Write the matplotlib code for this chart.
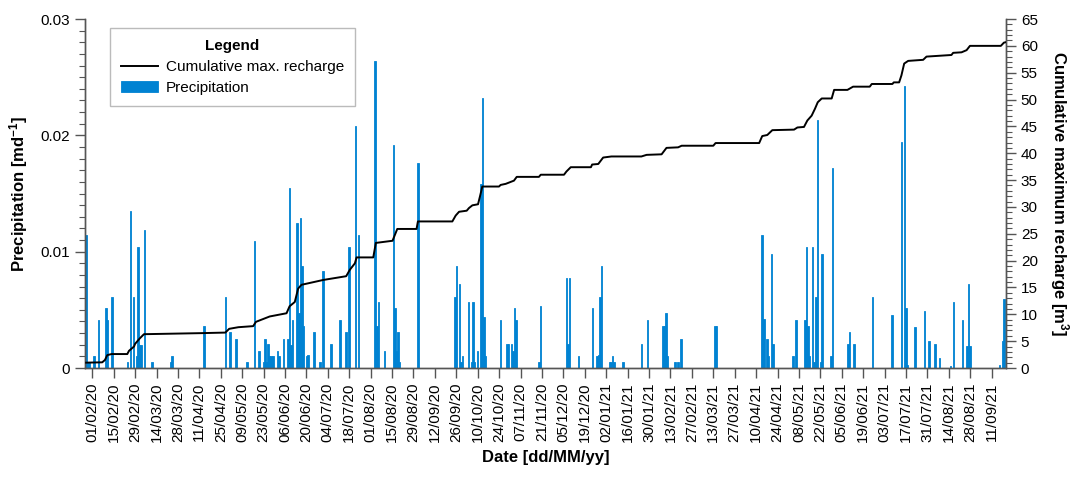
import numpy as np
import matplotlib.pyplot as plt
import matplotlib.dates as mdates
from matplotlib.ticker import MultipleLocator

plt.rcParams['font.family'] = ['Liberation Sans', 'DejaVu Sans']
plt.rcParams['mathtext.fontset'] = 'custom'
plt.rcParams['mathtext.bf'] = 'Liberation Sans:bold'
plt.rcParams['mathtext.default'] = 'bf'

# day offsets are counted from 01/02/2020
start = mdates.date2num(np.datetime64('2020-02-01'))

# daily precipitation (only rainy days) [m/d]
rain_day = [-4, -3, -2, 1, 4, 9, 10, 13, 23, 25, 27, 29, 30, 31, 32, 34, 39, 51, 52,
            73, 87, 90, 94, 101, 106, 109, 112, 113, 114, 115, 116, 117, 118, 121,
            122, 125, 128, 129, 130, 131, 134, 135, 136, 137, 138, 140, 141, 145,
            149, 151, 156, 162, 166, 168, 172, 174, 185, 186, 187, 191, 197, 198,
            199, 200, 201, 213, 237, 238, 240, 241, 242, 246, 248, 249, 250, 252,
            254, 255, 256, 257, 267, 271, 272, 274, 275, 276, 277, 292, 293, 310,
            311, 312, 318, 327, 330, 331, 332, 333, 338, 339, 340, 341, 347, 359,
            363, 373, 374, 375, 376, 381, 383, 385, 407, 408, 438, 439, 441, 442,
            444, 445, 458, 460, 466, 467, 468, 469, 471, 472, 473, 474, 476, 477,
            483, 484, 494, 495, 498, 510, 523, 529, 531, 532, 533, 538, 544, 547,
            551, 554, 561, 563, 569, 572, 573, 574, 593, 595, 596]
rain = [0.0114, 0.0005, 0.0005, 0.0010, 0.0041, 0.0052, 0.0041, 0.0061, 0.0005,
        0.0135, 0.0061, 0.0010, 0.0104, 0.0020, 0.0020, 0.0119, 0.0005, 0.0005,
        0.0010, 0.0036, 0.0061, 0.0031, 0.0025, 0.0005, 0.0109, 0.0015, 0.0005,
        0.0025, 0.0005, 0.0021, 0.0010, 0.0010, 0.0010, 0.0015, 0.0010, 0.0025,
        0.0025, 0.0155, 0.0020, 0.0041, 0.0125, 0.0047, 0.0129, 0.0088, 0.0036,
        0.0010, 0.0011, 0.0031, 0.0005, 0.0083, 0.0021, 0.0041, 0.0031, 0.0104,
        0.0208, 0.0114, 0.0264, 0.0036, 0.0057, 0.0015, 0.0192, 0.0052, 0.0015,
        0.0031, 0.0005, 0.0176, 0.0061, 0.0088, 0.0072, 0.0005, 0.0010, 0.0057,
        0.0005, 0.0057, 0.0005, 0.0015, 0.0158, 0.0232, 0.0044, 0.0010, 0.0041,
        0.0021, 0.0021, 0.0021, 0.0015, 0.0052, 0.0041, 0.0005, 0.0053, 0.0077,
        0.0021, 0.0077, 0.0010, 0.0052, 0.0010, 0.0011, 0.0061, 0.0088, 0.0005,
        0.0005, 0.0010, 0.0005, 0.0005, 0.0021, 0.0041, 0.0036, 0.0036, 0.0047,
        0.0010, 0.0005, 0.0005, 0.0025, 0.0036, 0.0036, 0.0114, 0.0042, 0.0025,
        0.0010, 0.0098, 0.0021, 0.0010, 0.0041, 0.0041, 0.0104, 0.0036, 0.0010,
        0.0104, 0.0005, 0.0061, 0.0213, 0.0005, 0.0098, 0.0010, 0.0172, 0.0021,
        0.0031, 0.0021, 0.0061, 0.0046, 0.0194, 0.0242, 0.0052, 0.0003, 0.0035,
        0.0049, 0.0023, 0.0021, 0.0009, 0.0002, 0.0057, 0.0041, 0.0019, 0.0072,
        0.0019, 0.0003, 0.0023, 0.0059]

# cumulative maximum recharge [m3]
rech_day = [-4, 6.5, 8.3, 9.8, 12.6, 22.9, 24, 27.3, 28, 31, 33.8, 72, 87, 89.5,
            95.5, 105.2, 107, 116, 127, 129, 132.4, 134.6, 136.8, 151, 166, 168.4,
            171.7, 172.8, 183.7, 185.4, 196.3, 199.4, 212, 212.9, 235.4, 237.6,
            239.8, 244.8, 246.3, 248.5, 252.2, 253.5, 255, 265.9, 267, 270.3,
            275.7, 277.5, 292, 293.2, 308.4, 310, 312.8, 326, 326.8, 330.8, 334,
            339.4, 359, 362.4, 372.2, 375.4, 383, 385.3, 406, 407.5, 436, 438,
            441.3, 444.6, 458.8, 461, 465.3, 467.5, 470.3, 472.5, 474.3, 476.9,
            483.4, 485, 493.7, 497.4, 508.3, 509.6, 523.1, 524, 527.5, 529,
            530.8, 533.4, 543.2, 545.4, 561.7, 562.8, 568.3, 571.6, 573.8, 594,
            596, 597.5]
rech = [1.0, 1.06, 1.5, 2.4, 2.6, 2.6, 3.2, 4.0, 4.5, 5.5, 6.3, 6.5, 6.6, 7.3,
        7.6, 7.8, 8.6, 9.6, 10.2, 11.5, 12.3, 14.8, 15.5, 16.4, 17.1, 18.3, 19.5,
        20.6, 20.6, 23.3, 23.7, 25.9, 25.9, 27.3, 27.3, 28.4, 29.1, 29.3, 29.8,
        30.3, 30.5, 32.0, 33.8, 33.8, 34.1, 34.3, 34.9, 35.6, 35.6, 36.0, 36.0,
        36.6, 37.4, 37.4, 37.9, 38.0, 39.2, 39.4, 39.4, 39.7, 39.8, 41.0, 41.1,
        41.4, 41.4, 41.9, 41.9, 43.2, 43.4, 44.3, 44.4, 44.8, 44.9, 46.1, 47.0,
        48.3, 49.5, 50.2, 50.2, 51.8, 51.8, 52.4, 52.4, 52.9, 52.9, 53.2, 53.2,
        54.5, 56.7, 57.2, 57.4, 58.0, 58.3, 58.7, 58.8, 59.2, 60.0, 60.0, 60.6,
        60.7]

rain_t = start + np.array(rain_day, dtype=float)
rech_t = start + np.array(rech_day, dtype=float)

fig = plt.figure(figsize=(10.75, 4.79), dpi=100)
ax = fig.add_axes([0.079, 0.2317, 0.857, 0.7286])
ax2 = ax.twinx()

bars = ax.bar(rain_t, rain, width=1.0, color='#0082d2', edgecolor='#0082d2',
              linewidth=0.6, align='center', label='Precipitation', zorder=2)
line, = ax2.plot(rech_t, rech, color='black', lw=1.4,
                 label='Cumulative max. recharge', zorder=3)

ax.set_xlim(start - 4.8, start + 597.5)
ax.set_ylim(0, 0.03)
ax2.set_ylim(0, 65)

ax.set_xticks(start + np.arange(0, 589, 14))
ax.xaxis.set_major_formatter(mdates.DateFormatter('%d/%m/%y'))
ax.yaxis.set_minor_locator(MultipleLocator(0.001))
ax2.yaxis.set_major_locator(MultipleLocator(5))
ax2.yaxis.set_minor_locator(MultipleLocator(1))
ax.set_yticks([0, 0.01, 0.02, 0.03])
ax.set_yticklabels(['0', '0.01', '0.02', '0.03'])

for a in (ax, ax2):
    a.spines['top'].set_visible(False)
    for s in ('left', 'right', 'bottom'):
        a.spines[s].set_color('#555555')
        a.spines[s].set_linewidth(1.0)
    a.tick_params(which='major', direction='out', length=7, width=1,
                  color='#555555', labelsize=11)
    a.tick_params(which='minor', direction='out', length=4, width=0.8,
                  color='#555555')
ax.tick_params(axis='x', rotation=90, labelsize=11)

ax.set_xlabel('Date [dd/MM/yy]', fontsize=12, fontweight='bold', labelpad=6)
ax.set_ylabel(r'Precipitation [md$^{-1}$]', fontsize=12, fontweight='bold',
              labelpad=8)
ax2.set_ylabel(r'Cumulative maximum recharge [m$^{3}$]', fontsize=12,
               fontweight='bold', rotation=270, labelpad=24)

leg = ax2.legend([line, bars], ['Cumulative max. recharge', 'Precipitation'],
                 title='Legend', loc='upper left',
                 bbox_to_anchor=(0.027, 0.975), borderaxespad=0, fontsize=11,
                 title_fontproperties={'weight': 'bold', 'size': 11},
                 fancybox=False, framealpha=1, edgecolor='#bbbbbb',
                 handlelength=2.4, handletextpad=0.5, borderpad=0.75,
                 labelspacing=0.45)
leg.get_frame().set_linewidth(1.0)

fig.savefig('out.png', dpi=100)
